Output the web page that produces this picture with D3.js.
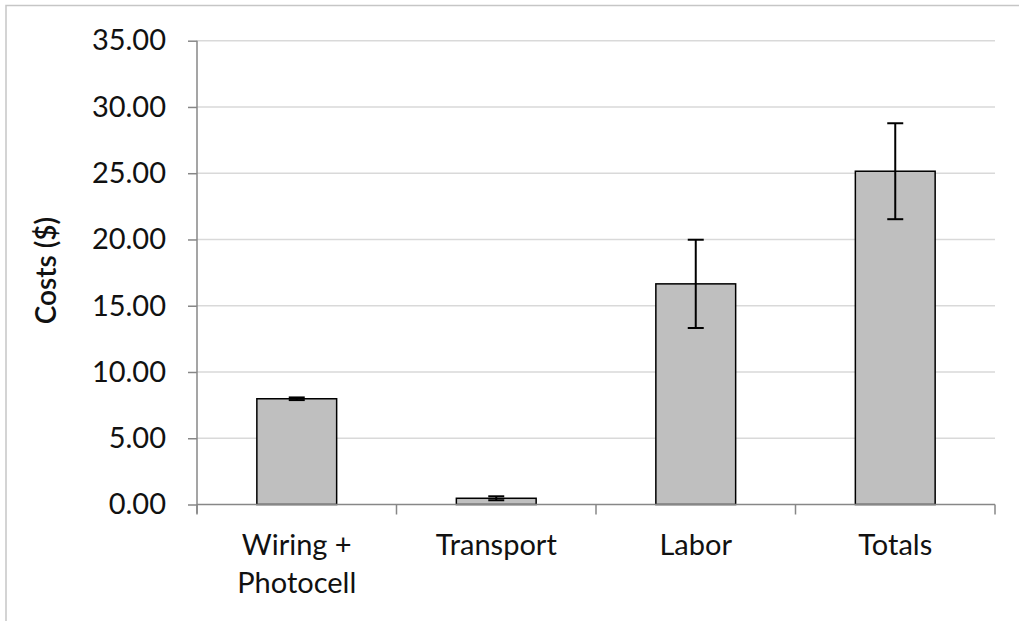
<!DOCTYPE html>
<html>
<head>
<meta charset="utf-8">
<script src="https://cdn.jsdelivr.net/npm/d3@7"></script>
<style>
  html, body { margin: 0; padding: 0; background: #fff; }
  svg { display: block; }
  text { font-family: Lato, "Open Sans", sans-serif; fill: #111; }
</style>
</head>
<body>
<svg id="chart" width="1019" height="621"></svg>
<script>
// Cost components (USD) with symmetric error half-widths
const categories = [["Wiring +", "Photocell"], ["Transport"], ["Labor"], ["Totals"]];
const costs = [7.98, 0.47, 16.65, 25.15];
const errors = [0.1, 0.15, 3.33, 3.62];
const yTicks = [0, 5, 10, 15, 20, 25, 30, 35];
const yTitle = "Costs ($)";

const W = 1019, H = 621;
const plot = { left: 197, right: 995, top: 40.7, bottom: 504.5 };

const svg = d3.select("#chart");

// outer chart-area frame
svg.append("rect")
  .attr("x", 6).attr("y", 5.5)
  .attr("width", W + 20).attr("height", H + 20)
  .attr("fill", "none").attr("stroke", "#c6c6c6").attr("stroke-width", 1.5);

const keys = categories.map((c, i) => i);
const x = d3.scaleBand().domain(keys).range([plot.left, plot.right]).paddingInner(0.6).paddingOuter(0.3);
const y = d3.scaleLinear().domain([0, 35]).range([plot.bottom, plot.top]);

// horizontal gridlines
svg.append("g")
  .selectAll("line")
  .data(yTicks.filter(t => t > 0))
  .join("line")
  .attr("x1", plot.left).attr("x2", plot.right)
  .attr("y1", d => y(d)).attr("y2", d => y(d))
  .attr("stroke", "#d9d9d9").attr("stroke-width", 1.5);

// y axis
const yAxis = svg.append("g")
  .attr("transform", `translate(${plot.left},0)`)
  .call(d3.axisLeft(y).tickValues(yTicks).tickFormat(d3.format(".2f")).tickSize(9).tickPadding(22));
yAxis.select(".domain").attr("stroke", "#878787").attr("stroke-width", 1.5)
  .attr("d", `M0,${plot.top}V${plot.bottom + 9}`);
yAxis.selectAll(".tick line").attr("stroke", "#878787").attr("stroke-width", 1.5);
yAxis.selectAll(".tick text").style("font-size", "29px").attr("fill", "#111");

// bars
svg.append("g")
  .selectAll("rect")
  .data(costs)
  .join("rect")
  .attr("x", (d, i) => x(i))
  .attr("y", d => y(d))
  .attr("width", x.bandwidth())
  .attr("height", d => y(0) - y(d))
  .attr("fill", "#bfbfbf")
  .attr("stroke", "#000").attr("stroke-width", 1.5);

// x axis with category boundary ticks
const edges = [plot.left];
keys.forEach(i => edges.push(plot.left + (i + 1) * (plot.right - plot.left) / keys.length));
const xg = svg.append("g");
xg.append("line")
  .attr("x1", plot.left).attr("x2", plot.right)
  .attr("y1", y(0)).attr("y2", y(0))
  .attr("stroke", "#878787").attr("stroke-width", 1.5);
xg.selectAll("line.tk")
  .data(edges)
  .join("line").attr("class", "tk")
  .attr("x1", d => d).attr("x2", d => d)
  .attr("y1", y(0)).attr("y2", y(0) + 10)
  .attr("stroke", "#878787").attr("stroke-width", 1.5);

// error bars
const eb = svg.append("g").attr("stroke", "#000").attr("stroke-width", 2);
costs.forEach((v, i) => {
  const cx = x(i) + x.bandwidth() / 2;
  const lo = y(v - errors[i]), hi = y(v + errors[i]);
  eb.append("line").attr("x1", cx).attr("x2", cx).attr("y1", lo).attr("y2", hi);
  eb.append("line").attr("x1", cx - 8).attr("x2", cx + 8).attr("y1", lo).attr("y2", lo);
  eb.append("line").attr("x1", cx - 8).attr("x2", cx + 8).attr("y1", hi).attr("y2", hi);
});

// category labels
svg.append("g")
  .selectAll("text")
  .data(categories)
  .join("text")
  .attr("x", (d, i) => x(i) + x.bandwidth() / 2)
  .attr("y", 555)
  .attr("text-anchor", "middle")
  .style("font-size", "29px")
  .selectAll("tspan")
  .data(d => d)
  .join("tspan")
  .attr("x", function () { return this.parentNode.getAttribute("x"); })
  .attr("dy", (d, j) => j === 0 ? 0 : 38)
  .text(d => d);

// y axis title
svg.append("text")
  .attr("transform", `translate(56,270.5) rotate(-90)`)
  .attr("text-anchor", "middle")
  .style("font-size", "28px")
  .style("font-weight", "600")
  .text(yTitle);
</script>
</body>
</html>
